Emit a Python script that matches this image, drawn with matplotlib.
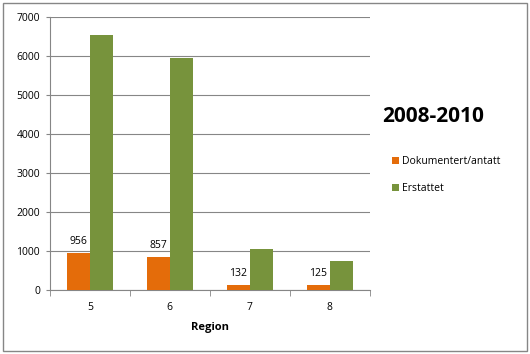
import matplotlib
matplotlib.use("Agg")
import matplotlib.pyplot as plt
from matplotlib.patches import Rectangle
import numpy as np

regions = ["5", "6", "7", "8"]
dokumentert = [956, 857, 132, 125]
erstattet = [6530, 5940, 1040, 740]

ORANGE = "#E46C0A"
GREEN = "#77933C"
GRID = "#868686"

plt.rcParams["font.family"] = ["Open Sans", "DejaVu Sans"]

fig = plt.figure(figsize=(5.3, 3.54), dpi=100)
ax = fig.add_axes([0.094, 0.181, 0.604, 0.771])

x = np.arange(len(regions))
w = 0.29
ax.bar(x - w / 2, dokumentert, w, color=ORANGE, label="Dokumentert/antatt", zorder=3)
ax.bar(x + w / 2, erstattet, w, color=GREEN, label="Erstattet", zorder=3)

for xi, v in zip(x, dokumentert):
    ax.annotate(f"{v}", (xi - w / 2, v), textcoords="offset points", xytext=(0, 4),
                ha="center", va="bottom", fontsize=7.5)

ax.set_xlim(-0.5, len(regions) - 0.5)
ax.set_ylim(0, 7000)
ax.set_yticks(range(0, 7001, 1000))
ax.tick_params(axis="y", labelsize=7.5, length=3, color=GRID, pad=4)
ax.set_xticks(x)
ax.set_xticklabels(regions)
ax.tick_params(axis="x", length=0, labelsize=7.5, pad=9)
ax.set_xticks(np.arange(-0.5, len(regions)), minor=True)
ax.tick_params(axis="x", which="minor", length=4, color=GRID)
ax.grid(axis="y", color=GRID, linewidth=0.8, zorder=0)
ax.set_axisbelow(True)
for s in ["top", "right"]:
    ax.spines[s].set_visible(False)
for s in ["left", "bottom"]:
    ax.spines[s].set_color(GRID)
ax.set_xlabel("Region", fontsize=8, fontweight="bold", labelpad=6)

fig.text(0.722, 0.67, "2008-2010", fontsize=15, fontweight="bold", va="center")
ax.legend(loc="upper left", bbox_to_anchor=(1.055, 0.505), frameon=False, fontsize=7.5,
          handlelength=0.7, handleheight=0.7, handletextpad=0.3, labelspacing=1.5,
          borderaxespad=0)

fig.patches.append(Rectangle((0.006, 0.008), 0.988, 0.984, transform=fig.transFigure,
                             fill=False, edgecolor="#868686", linewidth=1))

fig.savefig("out.png", dpi=100)
